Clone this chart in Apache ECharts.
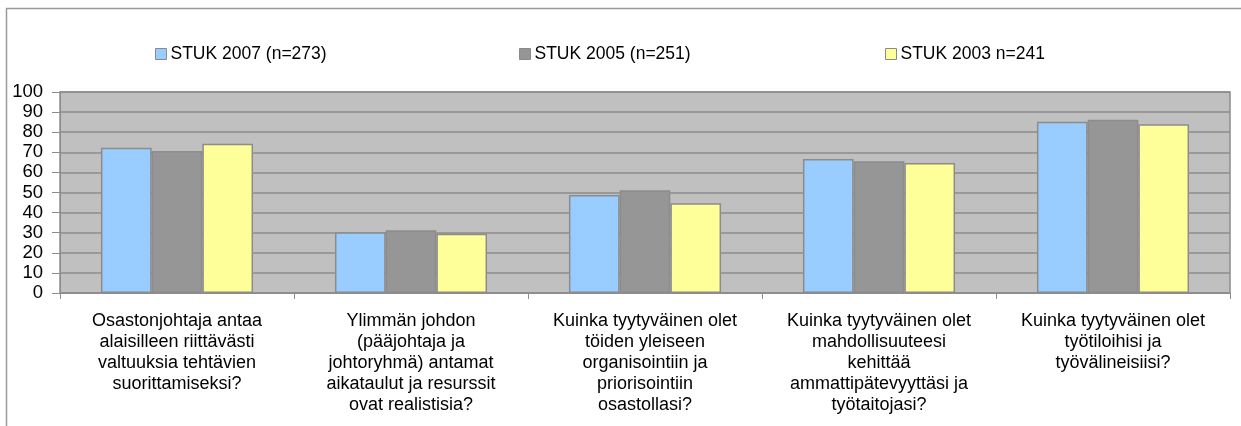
<!DOCTYPE html>
<html>
<head>
<meta charset="utf-8">
<script src="https://cdn.jsdelivr.net/npm/echarts@6/dist/echarts.min.js"></script>
<style>
html,body{margin:0;padding:0;background:#fff;}
#c{width:1241px;height:426px;}
</style>
</head>
<body>
<div id="c"></div>
<script>
var categories = [
  "Osastonjohtaja antaa\nalaisilleen riittävästi\nvaltuuksia tehtävien\nsuorittamiseksi?",
  "Ylimmän johdon\n(pääjohtaja ja\njohtoryhmä) antamat\naikataulut ja resurssit\novat realistisia?",
  "Kuinka tyytyväinen olet\ntöiden yleiseen\norganisointiin ja\npriorisointiin\nosastollasi?",
  "Kuinka tyytyväinen olet\nmahdollisuuteesi\nkehittää\nammattipätevyyttäsi ja\ntyötaitojasi?",
  "Kuinka tyytyväinen olet\ntyötiloihisi ja\ntyövälineisiisi?"
];
var seriesNames = ["STUK 2007 (n=273)", "STUK 2005 (n=251)", "STUK 2003 n=241"];
var stuk2007 = [72.3, 30.2, 48.8, 66.7, 85.2];
var stuk2005 = [70.6, 31.2, 51.1, 65.5, 86.2];
var stuk2003 = [74.3, 29.5, 44.6, 64.7, 83.9];
var yTicks = [0, 100, 10];

var colors = ["#99ccff", "#969696", "#ffff99"];
var font = "Liberation Sans, Arial, sans-serif";
var chart = echarts.init(document.getElementById('c'), null, {renderer: 'canvas'});

function mkLegend(name, left) {
  return {
    data: [name], left: left, top: 40, itemWidth: 11, itemHeight: 11, itemGap: 0,
    icon: 'rect',
    textStyle: {fontFamily: font, fontSize: 17.5, color: '#000', padding: [0, 0, 0, -1]},
    itemStyle: {borderColor: '#8a8a8a', borderWidth: 1}
  };
}
function mkSeries(i, data) {
  return {
    name: seriesNames[i], type: 'bar', data: data,
    barGap: '0%', barCategoryGap: '35%',
    itemStyle: {color: colors[i], borderColor: '#8c8c8c', borderWidth: 1.5},
    animation: false
  };
}

chart.setOption({
  animation: false,
  graphic: [{
    type: 'rect', shape: {x: 6.5, y: 8.5, width: 1300, height: 500},
    style: {fill: 'none', stroke: '#9a9a9a', lineWidth: 1.5}, z: -10
  }],
  legend: [mkLegend(seriesNames[0], 150), mkLegend(seriesNames[1], 514), mkLegend(seriesNames[2], 880)],
  grid: {left: 60, right: 11, top: 92, bottom: 133, show: true, backgroundColor: '#c0c0c0', borderColor: '#8c8c8c', borderWidth: 1.5},
  xAxis: {
    type: 'category', data: categories,
    axisLine: {lineStyle: {color: '#8c8c8c', width: 1}},
    axisTick: {show: true, length: 6, lineStyle: {color: '#8c8c8c'}},
    axisLabel: {interval: 0, fontFamily: font, fontSize: 18, color: '#000', lineHeight: 21, margin: 18, align: 'center'}
  },
  yAxis: {
    type: 'value', min: yTicks[0], max: yTicks[1], interval: yTicks[2],
    axisLine: {show: true, lineStyle: {color: '#8c8c8c'}},
    axisTick: {show: true, length: 8, lineStyle: {color: '#8c8c8c'}},
    splitLine: {lineStyle: {color: '#8c8c8c', width: 1.5}},
    axisLabel: {fontFamily: font, fontSize: 18.5, color: '#000', margin: 17}
  },
  series: [mkSeries(0, stuk2007), mkSeries(1, stuk2005), mkSeries(2, stuk2003)]
});
</script>
</body>
</html>
